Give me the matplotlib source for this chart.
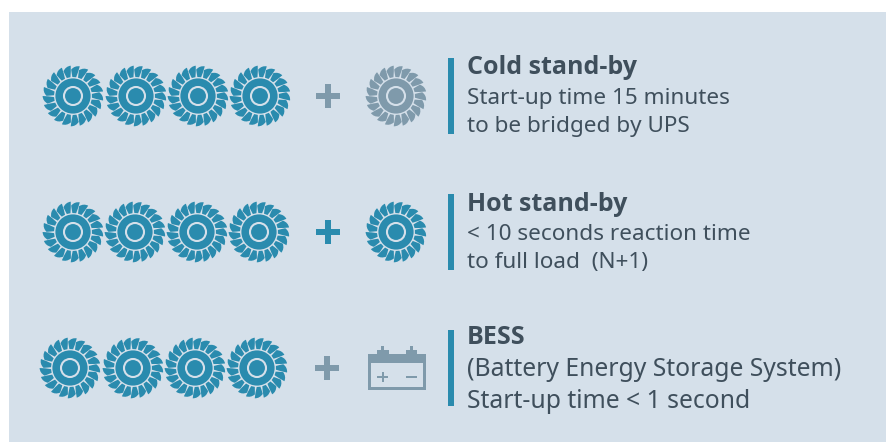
import numpy as np
import matplotlib
matplotlib.use("Agg")
import matplotlib.pyplot as plt
from matplotlib.patches import Rectangle, Circle, PathPatch
from matplotlib.path import Path

W, H = 886, 442
BG = "#d5e0ea"
TEAL = "#2a8bae"
GREY = "#7f9aab"
TEXT = "#3f4f5c"

row_titles = ["Cold stand-by", "Hot stand-by", "BESS"]
row_lines = [["Start-up time 15 minutes", "to be bridged by UPS"],
             ["< 10 seconds reaction time", "to full load  (N+1)"],
             ["(Battery Energy Storage System)", "Start-up time < 1 second"]]
row_turbine_x = [[73, 136, 198, 260], [73, 135, 197, 259], [70, 133, 195, 257]]
row_y = [96, 232, 368]
row_plus_x = [328, 328, 327]
row_spare = ["grey", "teal", "battery"]
row_spare_x = [396, 396, 397]
row_bar_top = [58, 194, 330]
row_bar_bottom = [134, 270, 406]
title_base = [74, 211, 344]
line_base = [[104, 132], [240, 268], [376, 408]]
line_size = [[16.2, 16.2], [16.2, 16.2], [17.8, 17.8]]
title_size = [18.0, 18.0, 18.0]

fig = plt.figure(figsize=(W / 100, H / 100), dpi=100)
ax = fig.add_axes([0, 0, 1, 1])
ax.set_xlim(0, W)
ax.set_ylim(H, 0)
ax.axis("off")
fig.patch.set_facecolor("white")
ax.add_patch(Rectangle((9, 12), W - 9, H - 12, fc=BG, ec="none"))

# blade outline as (radius, angle in units of blade pitch)
BLADE = [(19.0, -0.36), (19.0, 0.30),
         (24.5, 0.48), (30.4, 0.50),
         (30.6, -0.05), (26.5, -0.48),
         (22.5, -0.44), (19.0, -0.36)]
CODES = [Path.MOVETO, Path.LINETO, Path.CURVE3, Path.CURVE3, Path.CURVE3, Path.CURVE3, Path.CURVE3, Path.CURVE3]


def turbine(cx, cy, color, n=21):
    pitch = 2 * np.pi / n
    for k in range(n):
        a = k * pitch
        verts = [(cx + r * np.cos(a + t * pitch), cy + r * np.sin(a + t * pitch)) for r, t in BLADE]
        ax.add_patch(PathPatch(Path(verts, CODES), fc=color, ec="none"))
    ax.add_patch(Circle((cx, cy), 17.6, fc=color, ec="none"))
    ax.add_patch(Circle((cx, cy), 9.0, fc="none", ec=BG, lw=1.5))


def plus(cx, cy, color):
    ax.add_patch(Rectangle((cx - 12.3, cy - 2.9), 24.6, 5.8, fc=color, ec="none"))
    ax.add_patch(Rectangle((cx - 2.9, cy - 12.3), 5.8, 24.6, fc=color, ec="none"))


def battery(cx, cy, color):
    L, R, T, B = cx - 29, cx + 29, cy - 14, cy + 22
    ax.add_patch(Rectangle((L, T), R - L, B - T, fc=color, ec="none"))
    ax.add_patch(Rectangle((L + 2.7, T + 9), R - L - 5.4, B - T - 11.7, fc=BG, ec="none"))
    for x0 in (L + 9, L + 37.7):
        ax.add_patch(Rectangle((x0, T - 4), 11.6, 4, fc=color, ec="none"))
        ax.add_patch(Rectangle((x0 + 4, T - 8), 3.3, 5, fc=color, ec="none"))
    ax.add_patch(Rectangle((L + 9.5, cy + 8), 10.7, 1.7, fc=color, ec="none"))
    ax.add_patch(Rectangle((L + 14, cy + 3.5), 1.7, 10.7, fc=color, ec="none"))
    ax.add_patch(Rectangle((L + 38, cy + 8), 10.7, 1.7, fc=color, ec="none"))


for i, y in enumerate(row_y):
    for x in row_turbine_x[i]:
        turbine(x, y, TEAL)
    pc = TEAL if row_spare[i] == "teal" else GREY
    plus(row_plus_x[i], y, pc)
    if row_spare[i] == "battery":
        battery(row_spare_x[i], y, GREY)
    else:
        turbine(row_spare_x[i], y, pc)
    ax.add_patch(Rectangle((448, row_bar_top[i]), 6, row_bar_bottom[i] - row_bar_top[i], fc=TEAL, ec="none"))
    ax.text(467, title_base[i], row_titles[i], fontsize=title_size[i], fontweight="bold",
            family="Open Sans", color=TEXT, va="baseline", ha="left")
    for s, yy, fs in zip(row_lines[i], line_base[i], line_size[i]):
        ax.text(467, yy, s, fontsize=fs, family="Noto Sans", color=TEXT, va="baseline", ha="left")

fig.savefig("out.png", dpi=100)
